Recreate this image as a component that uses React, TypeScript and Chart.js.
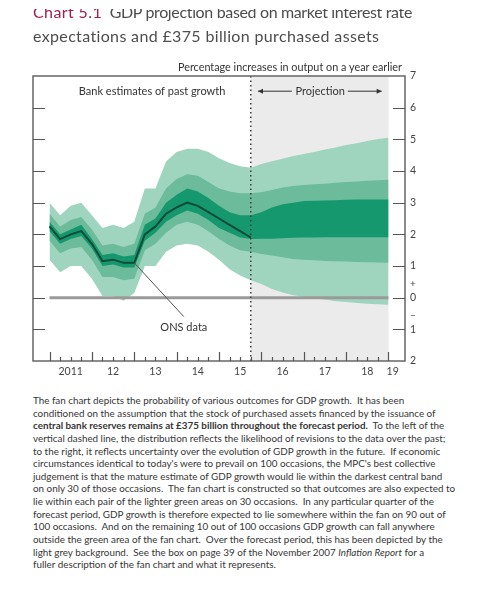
import React, { useEffect, useRef } from 'react';
import { Chart, registerables } from 'chart.js';

Chart.register(...registerables);

// Quarters (plotted at quarter end)
const quarterLabels = [
  '2010 Q4',
  '2011 Q1', '2011 Q2', '2011 Q3', '2011 Q4',
  '2012 Q1', '2012 Q2', '2012 Q3', '2012 Q4',
  '2013 Q1', '2013 Q2', '2013 Q3', '2013 Q4',
  '2014 Q1', '2014 Q2', '2014 Q3', '2014 Q4',
  '2015 Q1', '2015 Q2', '2015 Q3', '2015 Q4',
  '2016 Q1', '2016 Q2', '2016 Q3', '2016 Q4',
  '2017 Q1', '2017 Q2', '2017 Q3', '2017 Q4',
  '2018 Q1', '2018 Q2', '2018 Q3', '2018 Q4',
];
const projectionStart = '2015 Q3';

// ONS data (backcast only)
const onsData = [2.25, 1.85, 2.0, 2.1, 1.7, 1.15, 1.2, 1.1, 1.1, 2.0, 2.25, 2.65, 2.85, 3.0, 2.9, 2.7, 2.5, 2.3, 2.1, 1.9];

// Fan bands: darkest central 30%, then 60%, then 90%
const darkTop = [2.4, 2.0, 2.15, 2.3, 1.85, 1.35, 1.4, 1.3, 1.35, 2.3, 2.5, 3.0, 3.25, 3.45, 3.35, 3.15, 2.9, 2.7, 2.6, 2.6, 2.7, 2.85, 2.95, 3.0, 3.05, 3.06, 3.07, 3.08, 3.09, 3.1, 3.1, 3.1, 3.1];
const darkBottom = [2.1, 1.7, 1.85, 1.95, 1.55, 1.0, 1.05, 0.95, 0.95, 1.8, 2.05, 2.4, 2.6, 2.75, 2.65, 2.45, 2.2, 2.05, 1.9, 1.85, 1.86, 1.86, 1.88, 1.89, 1.9, 1.9, 1.91, 1.91, 1.91, 1.91, 1.91, 1.91, 1.91];
const midTop = [2.65, 2.25, 2.45, 2.55, 2.15, 1.65, 1.7, 1.6, 1.7, 2.65, 2.85, 3.45, 3.75, 3.9, 3.85, 3.65, 3.45, 3.35, 3.3, 3.3, 3.33, 3.4, 3.48, 3.53, 3.56, 3.58, 3.6, 3.63, 3.65, 3.67, 3.69, 3.71, 3.72];
const midBottom = [1.8, 1.4, 1.55, 1.6, 1.2, 0.65, 0.65, 0.55, 0.6, 1.5, 1.7, 2.05, 2.3, 2.4, 2.3, 2.1, 1.85, 1.65, 1.5, 1.45, 1.38, 1.33, 1.28, 1.22, 1.2, 1.18, 1.16, 1.15, 1.14, 1.13, 1.12, 1.11, 1.1];
const lightTop = [3.0, 2.6, 2.9, 3.0, 2.6, 2.2, 2.3, 2.2, 2.4, 3.45, 3.45, 4.3, 4.6, 4.7, 4.7, 4.6, 4.4, 4.25, 4.15, 4.1, 4.22, 4.31, 4.39, 4.47, 4.54, 4.6, 4.68, 4.74, 4.82, 4.88, 4.95, 5.01, 5.05];
const lightBottom = [1.2, 0.8, 1.0, 1.0, 0.6, 0.05, 0.05, -0.1, 0.15, 1.0, 1.0, 1.45, 1.65, 1.7, 1.65, 1.45, 1.2, 0.9, 0.7, 0.55, 0.43, 0.27, 0.16, 0.08, 0.03, -0.02, -0.06, -0.11, -0.14, -0.17, -0.19, -0.21, -0.22];

// Axis
const yearTickPositions = [2011.5, 2012.5, 2013.5, 2014.5, 2015.5, 2016.5, 2017.5, 2018.5, 2019.1];
const yearTickLabels = ['2011', '12', '13', '14', '15', '16', '17', '18', '19'];
const yMin = -2;
const yMax = 7;
const xMin = 2010.61;
const xMax = 2019.39;

const qx = (label: string) => {
  const [y, q] = label.split(' Q');
  return Number(y) + Number(q) / 4;
};
const xs = quarterLabels.map(qx);
const pts = (arr: number[]) => arr.map((v, i) => ({ x: xs[i], y: v }));

const FONT = 'Lato, "Open Sans", sans-serif';

const decorPlugin = {
  id: 'decor',
  beforeDatasetsDraw(chart: any) {
    const { ctx, chartArea: a, scales } = chart;
    const x = scales.x;
    const x0 = x.getPixelForValue(qx(projectionStart));
    const x1 = x.getPixelForValue(xs[xs.length - 1]);
    ctx.save();
    ctx.fillStyle = '#ebebeb';
    ctx.fillRect(x0, a.top, x1 - x0, a.bottom - a.top);
    ctx.restore();
  },
  afterDatasetsDraw(chart: any) {
    const { ctx, chartArea: a, scales } = chart;
    const x = scales.x;
    const y = scales.y;
    ctx.save();
    // projection dotted line
    const xp = x.getPixelForValue(qx(projectionStart));
    ctx.strokeStyle = '#3d3d3d';
    ctx.lineWidth = 1.5;
    ctx.setLineDash([1.5, 3]);
    ctx.beginPath();
    ctx.moveTo(xp, a.top);
    ctx.lineTo(xp, a.bottom);
    ctx.stroke();
    ctx.setLineDash([]);

    // box
    ctx.strokeStyle = '#666';
    ctx.lineWidth = 1.5;
    ctx.strokeRect(a.left, a.top, a.right - a.left, a.bottom - a.top);

    // y ticks both sides (inward)
    ctx.lineWidth = 1.2;
    ctx.strokeStyle = '#555';
    for (let v = yMin + 1; v < yMax; v++) {
      const py = Math.round(y.getPixelForValue(v)) + 0.5;
      ctx.beginPath();
      ctx.moveTo(a.left, py);
      ctx.lineTo(a.left + 12, py);
      ctx.moveTo(a.right - 12, py);
      ctx.lineTo(a.right, py);
      ctx.stroke();
    }
    // x ticks (quarters, years longer)
    for (let t = 2011; t <= 2019.001; t += 0.25) {
      const px = Math.round(x.getPixelForValue(t)) + 0.5;
      const isYear = Math.abs(t - Math.round(t)) < 0.01;
      ctx.beginPath();
      ctx.moveTo(px, a.bottom);
      ctx.lineTo(px, a.bottom - (isYear ? 9 : 4));
      ctx.stroke();
    }

    // + / - signs around zero on right
    ctx.fillStyle = '#444';
    ctx.font = `10px ${FONT}`;
    ctx.textAlign = 'left';
    ctx.textBaseline = 'middle';
    ctx.fillText('+', a.right + 5, y.getPixelForValue(0.45));
    ctx.fillText('\u2013', a.right + 5, y.getPixelForValue(-0.55));

    // unit label
    ctx.font = `10.8px ${FONT}`;
    ctx.textAlign = 'right';
    ctx.textBaseline = 'middle';
    ctx.fillStyle = '#333';
    ctx.fillText('Percentage increases in output on a year earlier', a.right - 3, a.top - 8);

    // in-chart labels
    ctx.font = `11px ${FONT}`;
    ctx.textAlign = 'center';
    ctx.fillText('Bank estimates of past growth', x.getPixelForValue(2013.42), y.getPixelForValue(6.52));
    const pyP = y.getPixelForValue(6.52);
    ctx.fillText('Projection', x.getPixelForValue(2017.39), pyP);
    // arrows
    const arrow = (fromT: number, toT: number) => {
      const xa = x.getPixelForValue(fromT);
      const xb = x.getPixelForValue(toT);
      ctx.strokeStyle = '#333';
      ctx.fillStyle = '#333';
      ctx.lineWidth = 1;
      ctx.beginPath();
      ctx.moveTo(xa, pyP);
      ctx.lineTo(xb, pyP);
      ctx.stroke();
      const dir = xb > xa ? 1 : -1;
      ctx.beginPath();
      ctx.moveTo(xb, pyP);
      ctx.lineTo(xb - dir * 5, pyP - 2.5);
      ctx.lineTo(xb - dir * 5, pyP + 2.5);
      ctx.closePath();
      ctx.fill();
    };
    arrow(2016.72, 2015.92);
    arrow(2018.04, 2018.84);

    // ONS data leader
    ctx.strokeStyle = '#555';
    ctx.lineWidth = 1;
    ctx.beginPath();
    ctx.moveTo(x.getPixelForValue(2013.0), y.getPixelForValue(1.1));
    ctx.lineTo(x.getPixelForValue(2014.17), y.getPixelForValue(-0.6));
    ctx.stroke();
    ctx.fillStyle = '#333';
    ctx.fillText('ONS data', x.getPixelForValue(2014.17), y.getPixelForValue(-0.93));
    ctx.restore();
  },
};

function FanChart() {
  const ref = useRef<HTMLCanvasElement | null>(null);
  useEffect(() => {
    if (!ref.current) return;
    const lastX = xs[xs.length - 1];
    const chart = new Chart(ref.current, {
      type: 'line',
      data: {
        datasets: [
          { data: [{ x: xs[0], y: 0 }, { x: lastX, y: 0 }], borderColor: '#9a9a9a', borderWidth: 3, pointRadius: 0, fill: false },
          { data: pts(onsData), borderColor: '#0b4a36', borderWidth: 2, pointRadius: 0, fill: false },
          { data: pts(darkTop), borderWidth: 0, borderColor: 'rgba(0,0,0,0)', pointRadius: 0, backgroundColor: '#16986f', fill: 3 },
          { data: pts(darkBottom), borderWidth: 0, borderColor: 'rgba(0,0,0,0)', pointRadius: 0, fill: false },
          { data: pts(midTop), borderWidth: 0, borderColor: 'rgba(0,0,0,0)', pointRadius: 0, backgroundColor: '#6cbb9b', fill: 5 },
          { data: pts(midBottom), borderWidth: 0, borderColor: 'rgba(0,0,0,0)', pointRadius: 0, fill: false },
          { data: pts(lightTop), borderWidth: 0, borderColor: 'rgba(0,0,0,0)', pointRadius: 0, backgroundColor: '#9fd4bf', fill: 7 },
          { data: pts(lightBottom), borderWidth: 0, borderColor: 'rgba(0,0,0,0)', pointRadius: 0, fill: false },
        ],
      },
      options: {
        animation: false,
        responsive: false,
        maintainAspectRatio: false,
        layout: { padding: { left: 33, top: 76, right: 78, bottom: 17 } },
        plugins: { legend: { display: false }, tooltip: { enabled: false } },
        scales: {
          x: {
            type: 'linear',
            min: xMin,
            max: xMax,
            grid: { display: false, drawTicks: false },
            border: { display: false },
            afterBuildTicks: (s: any) => {
              s.ticks = yearTickPositions.map((v) => ({ value: v }));
            },
            afterFit: (s: any) => {
              s.height = 14;
            },
            ticks: {
              autoSkip: false,
              maxRotation: 0,
              padding: 4,
              color: '#444',
              font: { family: FONT, size: 10.5 },
              callback: (_v: any, i: number) => yearTickLabels[i],
            },
          },
          y: {
            position: 'right',
            min: yMin,
            max: yMax,
            grid: { display: false, drawTicks: false },
            border: { display: false },
            afterFit: (s: any) => {
              s.width = 12;
            },
            ticks: {
              stepSize: 1,
              padding: 5,
              color: '#444',
              font: { family: FONT, size: 10.5 },
              callback: (v: any) => String(Math.abs(Number(v))),
            },
          },
        },
      },
      plugins: [decorPlugin],
    } as any);
    return () => chart.destroy();
  }, []);
  return <canvas ref={ref} width={495} height={392} style={{ width: 495, height: 392, display: 'block' }} />;
}

const notes: React.ReactNode[] = [
  'The fan chart depicts the probability of various outcomes for GDP growth.  It has been',
  'conditioned on the assumption that the stock of purchased assets financed by the issuance of',
  <><b>central bank reserves remains at £375 billion throughout the forecast period.</b>  To the left of the</>,
  'vertical dashed line, the distribution reflects the likelihood of revisions to the data over the past;',
  'to the right, it reflects uncertainty over the evolution of GDP growth in the future.  If economic',
  "circumstances identical to today's were to prevail on 100 occasions, the MPC's best collective",
  'judgement is that the mature estimate of GDP growth would lie within the darkest central band',
  'on only 30 of those occasions.  The fan chart is constructed so that outcomes are also expected to',
  'lie within each pair of the lighter green areas on 30 occasions.  In any particular quarter of the',
  'forecast period, GDP growth is therefore expected to lie somewhere within the fan on 90 out of',
  '100 occasions.  And on the remaining 10 out of 100 occasions GDP growth can fall anywhere',
  'outside the green area of the fan chart.  Over the forecast period, this has been depicted by the',
  <>light grey background.  See the box on page 39 of the November 2007 <i>Inflation Report</i> for a</>,
  'fuller description of the fan chart and what it represents.',
];

export default function App() {
  return (
    <div style={{ position: 'absolute', left: 0, top: 0, width: 495, height: 592, background: '#fff', overflow: 'hidden', fontFamily: FONT }}>
      <div style={{ position: 'absolute', left: 0, top: 0 }}>
        <FanChart />
      </div>
      <div style={{ position: 'absolute', left: 0, top: 0, width: 495, height: 60, clipPath: 'inset(9px 0 0 0)' }}>
        <div style={{ position: 'absolute', left: 33, top: 0, fontSize: 16, lineHeight: '24px', color: '#4d4d4d', whiteSpace: 'pre' }}>
          <div>
            <span style={{ color: '#a3204a', letterSpacing: 0.4 }}>Chart 5.1</span>
            <span style={{ letterSpacing: -0.35 }}>  GDP projection based on market interest rate</span>
          </div>
          <div style={{ letterSpacing: 0.35 }}>expectations and £375 billion purchased assets</div>
        </div>
      </div>
      <div style={{ position: 'absolute', left: 33, top: 394, fontSize: 9.85, lineHeight: '12.64px', color: '#363636', whiteSpace: 'pre' }}>
        {notes.map((n, i) => (
          <div key={i}>{n}</div>
        ))}
      </div>
    </div>
  );
}
